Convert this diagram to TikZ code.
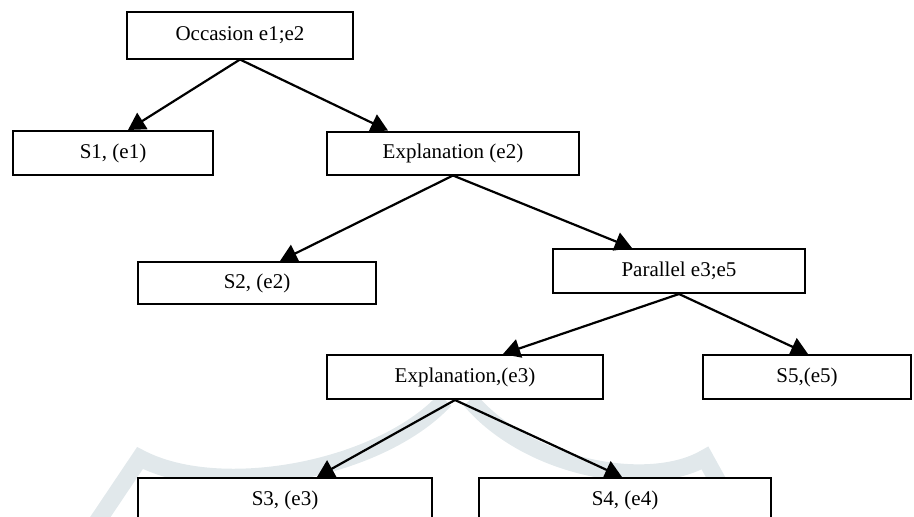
\documentclass[tikz,border=0pt]{standalone}
\usepackage{fontspec}
\setmainfont{Liberation Serif}
\usetikzlibrary{arrows.meta}
\definecolor{wmark}{RGB}{225,232,235}
\begin{document}
\begin{tikzpicture}[x=1pt,y=-1pt,
  box/.style={draw=black,fill=white,line width=2pt,rectangle,inner sep=0pt,
    font=\fontsize{21}{24}\selectfont},
  arr/.style={line width=2.2pt,-{Triangle[length=17pt,width=19pt]}},
  wm/.style={draw=wmark,line width=17pt}]
\useasboundingbox (0,0) rectangle (914,517);
% faint watermark
\draw[wm] (95,525) -- (140,458) .. controls (220,500) and (380,470) .. (445,400);
\draw[wm] (470,400) .. controls (530,470) and (650,490) .. (705,458) -- (742,525);
\node[box,minimum width=226pt,minimum height=47pt] (occ) at (240,35) {Occasion e1;e2};
\node[box,minimum width=200pt,minimum height=44pt] (s1) at (113,153) {S1, (e1)};
\node[box,minimum width=252pt,minimum height=43pt] (ex2) at (453,153) {Explanation (e2)};
\node[box,minimum width=238pt,minimum height=42pt] (s2) at (257,283) {S2, (e2)};
\node[box,minimum width=252pt,minimum height=44pt] (par) at (679,271) {Parallel e3;e5};
\node[box,minimum width=276pt,minimum height=44pt] (ex3) at (465,377) {Explanation,(e3)};
\node[box,minimum width=208pt,minimum height=44pt] (s5) at (807,377) {S5,(e5)};
\node[box,minimum width=294pt,minimum height=44pt] (s3) at (285,500) {S3, (e3)};
\node[box,minimum width=292pt,minimum height=44pt] (s4) at (625,500) {S4, (e4)};
\draw[arr] (occ.south) -- ([xshift=15pt]s1.north);
\draw[arr] (occ.south) -- ([xshift=-65pt]ex2.north);
\draw[arr] (ex2.south) -- ([xshift=23pt]s2.north);
\draw[arr] (ex2.south) -- ([xshift=-47pt]par.north);
\draw[arr] (par.south) -- ([xshift=38pt]ex3.north);
\draw[arr] (par.south) -- ([xshift=1pt]s5.north);
\draw[arr] ([xshift=-10pt]ex3.south) -- ([xshift=32pt]s3.north);
\draw[arr] ([xshift=-10pt]ex3.south) -- ([xshift=-3pt]s4.north);
\end{tikzpicture}
\end{document}
